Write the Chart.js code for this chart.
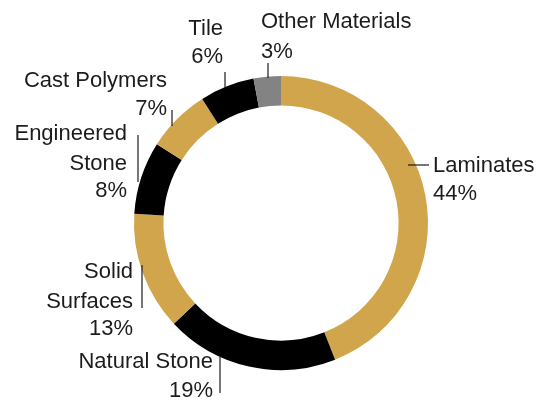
<!doctype html>
<html><head><meta charset="utf-8">
<script src="https://cdn.jsdelivr.net/npm/chart.js@4.4.0/dist/chart.umd.min.js"></script>
<style>
  html,body{margin:0;padding:0;background:#fff}
  #wrap{width:541px;height:402px;position:relative}
</style></head><body>
<div id="wrap"><canvas id="c"></canvas></div>
<script>
// data
const CATEGORIES = ['Laminates', 'Natural Stone', 'Solid Surfaces', 'Engineered Stone', 'Cast Polymers', 'Tile', 'Other Materials'];
const SHARES = [44, 19, 13, 8, 7, 6, 3];
const LABEL_LINES = [
  ['Laminates', '44%'],
  ['Natural Stone', '19%'],
  ['Solid', 'Surfaces', '13%'],
  ['Engineered', 'Stone', '8%'],
  ['Cast Polymers', '7%'],
  ['Tile', '6%'],
  ['Other Materials', '3%'],
];

const GOLD = '#d1a54b', BLACK = '#000000', GREY = '#838383';
const COLORS = [GOLD, BLACK, GOLD, BLACK, GOLD, BLACK, GREY];

// label placement, relative to the doughnut centre, in units of outer radius / 147
// line: [x1,y1,x2,y2], text: x anchor, alignment, baselines
const LAYOUT = [
  { line: [127, -58, 148, -58], tx: 152, align: 'left',  ys: [-51, -23] },
  { line: [-61, 134, -61, 170], tx: -68, align: 'right', ys: [145, 174] },
  { line: [-139, 42, -139, 85], tx: -148, align: 'right', ys: [55, 85, 112] },
  { line: [-143, -88, -143, -41], tx: -154, align: 'right', ys: [-83, -53, -26] },
  { line: [-109, -113, -109, -97], tx: -114, align: 'right', ys: [-136, -108] },
  { line: [-56, -151, -56, -135], tx: -58, align: 'right', ys: [-188, -160] },
  { line: [-13, -160, -13, -145], tx: -20, align: 'left', ys: [-195, -165] },
];

const calloutPlugin = {
  id: 'callouts',
  afterDatasetsDraw(chart) {
    const ctx = chart.ctx;
    const arcs = chart.getDatasetMeta(0).data;
    if (!arcs.length) return;
    const cx = arcs[0].x, cy = arcs[0].y, k = arcs[0].outerRadius / 147;
    ctx.save();
    ctx.font = '22px "Liberation Sans", Arial, sans-serif';
    ctx.fillStyle = '#1c1c1c';
    ctx.strokeStyle = '#1c1c1c';
    ctx.lineWidth = 1.2;
    ctx.textBaseline = 'alphabetic';
    LAYOUT.forEach((L, i) => {
      const [x1, y1, x2, y2] = L.line;
      ctx.beginPath();
      ctx.moveTo(cx + x1 * k, cy + y1 * k);
      ctx.lineTo(cx + x2 * k, cy + y2 * k);
      ctx.stroke();
      ctx.textAlign = L.align;
      LABEL_LINES[i].forEach((t, j) => ctx.fillText(t, cx + L.tx * k, cy + L.ys[j] * k));
    });
    ctx.restore();
  }
};

new Chart(document.getElementById('c'), {
  type: 'doughnut',
  data: {
    labels: CATEGORIES,
    datasets: [{ data: SHARES, backgroundColor: COLORS, borderWidth: 0, hoverOffset: 0 }]
  },
  options: {
    responsive: true, maintainAspectRatio: false, animation: false,
    cutout: '80%',
    rotation: 0,
    layout: { padding: { left: 134, right: 113, top: 76, bottom: 32 } },
    plugins: { legend: { display: false }, tooltip: { enabled: false } }
  },
  plugins: [calloutPlugin]
});
</script>
</body></html>
